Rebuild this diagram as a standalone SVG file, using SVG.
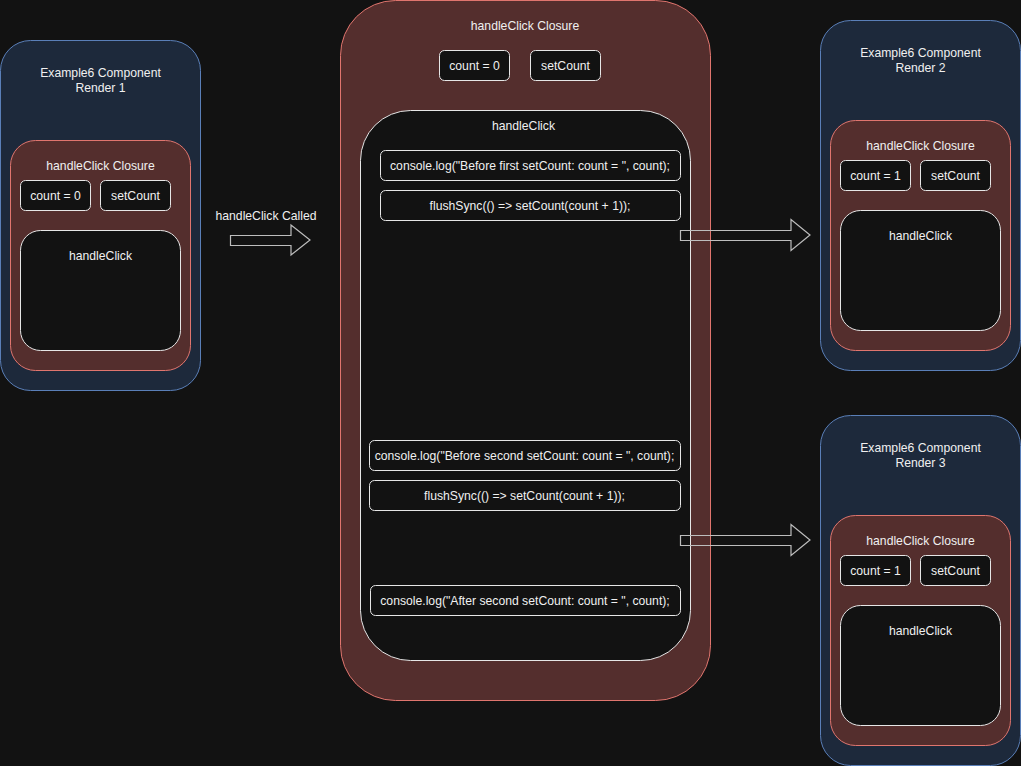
<svg xmlns="http://www.w3.org/2000/svg" width="1021" height="766" viewBox="0 0 1021 766">
<style>
text{font-family:"Liberation Sans",Arial,sans-serif;font-size:12.2px;fill:#f0f0f0;text-anchor:middle}
.comp{fill:#1d293b;stroke:#5a7fb8;stroke-width:1}
.clos{fill:#542e2d;stroke:#e0756e;stroke-width:1}
.box{fill:#121212;stroke:#e6e6e6;stroke-width:1}
.arrow{fill:none;stroke:#bdbdbd;stroke-width:1.2}
</style>
<rect x="0" y="0" width="1021" height="766" fill="#121212"/>

<g id="render1">
<rect class="comp" x="0.5" y="40.5" width="200" height="350" rx="30"/>
<text x="100.5" y="77">Example6 Component</text>
<text x="100.5" y="92">Render 1</text>
<g id="closure1">
<rect class="clos" x="10.5" y="140.5" width="180" height="230" rx="25"/>
<text x="100.5" y="170">handleClick Closure</text>
<rect class="box" x="20.5" y="180.5" width="70" height="30" rx="5"/>
<text x="55.5" y="200">count = 0</text>
<rect class="box" x="100.5" y="180.5" width="70" height="30" rx="5"/>
<text x="135.5" y="200">setCount</text>
<rect class="box" x="20.5" y="230.5" width="160" height="120" rx="20"/>
<text x="100.5" y="260">handleClick</text>
</g>
</g>

<g id="main-closure">
<rect class="clos" x="340.5" y="0.5" width="370" height="700" rx="55"/>
<text x="525" y="30">handleClick Closure</text>
<rect class="box" x="439.5" y="50.5" width="70" height="30" rx="5"/>
<text x="474.5" y="70">count = 0</text>
<rect class="box" x="530.5" y="50.5" width="70" height="30" rx="5"/>
<text x="565.5" y="70">setCount</text>
<g id="main-handleClick">
<rect class="box" x="360.5" y="110.5" width="330" height="550" rx="50"/>
<text x="523.5" y="130">handleClick</text>
<rect class="box" x="380.5" y="150.5" width="300" height="30" rx="5"/>
<text x="530" y="170">console.log("Before first setCount: count = ", count);</text>
<rect class="box" x="380.5" y="190.5" width="300" height="30" rx="5"/>
<text x="530" y="210">flushSync(() =&gt; setCount(count + 1));</text>
<rect class="box" x="369.5" y="440.5" width="311" height="30" rx="5"/>
<text x="524.5" y="460">console.log("Before second setCount: count = ", count);</text>
<rect class="box" x="369.5" y="480.5" width="311" height="30" rx="5"/>
<text x="524.5" y="500">flushSync(() =&gt; setCount(count + 1));</text>
<rect class="box" x="370.5" y="585.5" width="310" height="30" rx="5"/>
<text x="525" y="605">console.log("After second setCount: count = ", count);</text>
</g>
</g>

<g id="render2">
<rect class="comp" x="820.5" y="20.5" width="200" height="350" rx="30"/>
<text x="920.5" y="57">Example6 Component</text>
<text x="920.5" y="72">Render 2</text>
<g id="closure2">
<rect class="clos" x="830.5" y="120.5" width="180" height="230" rx="25"/>
<text x="920.5" y="150">handleClick Closure</text>
<rect class="box" x="840.5" y="160.5" width="70" height="30" rx="5"/>
<text x="875.5" y="180">count = 1</text>
<rect class="box" x="920.5" y="160.5" width="70" height="30" rx="5"/>
<text x="955.5" y="180">setCount</text>
<rect class="box" x="840.5" y="210.5" width="160" height="120" rx="20"/>
<text x="920.5" y="240">handleClick</text>
</g>
</g>

<g id="render3">
<rect class="comp" x="820.5" y="415.5" width="200" height="350" rx="30"/>
<text x="920.5" y="452">Example6 Component</text>
<text x="920.5" y="467">Render 3</text>
<g id="closure3">
<rect class="clos" x="830.5" y="515.5" width="180" height="230" rx="25"/>
<text x="920.5" y="545">handleClick Closure</text>
<rect class="box" x="840.5" y="555.5" width="70" height="30" rx="5"/>
<text x="875.5" y="575">count = 1</text>
<rect class="box" x="920.5" y="555.5" width="70" height="30" rx="5"/>
<text x="955.5" y="575">setCount</text>
<rect class="box" x="840.5" y="605.5" width="160" height="120" rx="20"/>
<text x="920.5" y="635">handleClick</text>
</g>
</g>

<g id="connectors">
<text x="266" y="220">handleClick Called</text>
<path class="arrow" d="M230.5,235.5 H291 V225 L310,240 L291,255 V245.5 H230.5 Z"/>
<path class="arrow" d="M680.5,230.5 H791 V219.5 L810,235 L791,250.5 V240.5 H680.5 Z"/>
<path class="arrow" d="M680.5,535.5 H791 V524.5 L810,540 L791,555.5 V545.5 H680.5 Z"/>
</g>
</svg>
